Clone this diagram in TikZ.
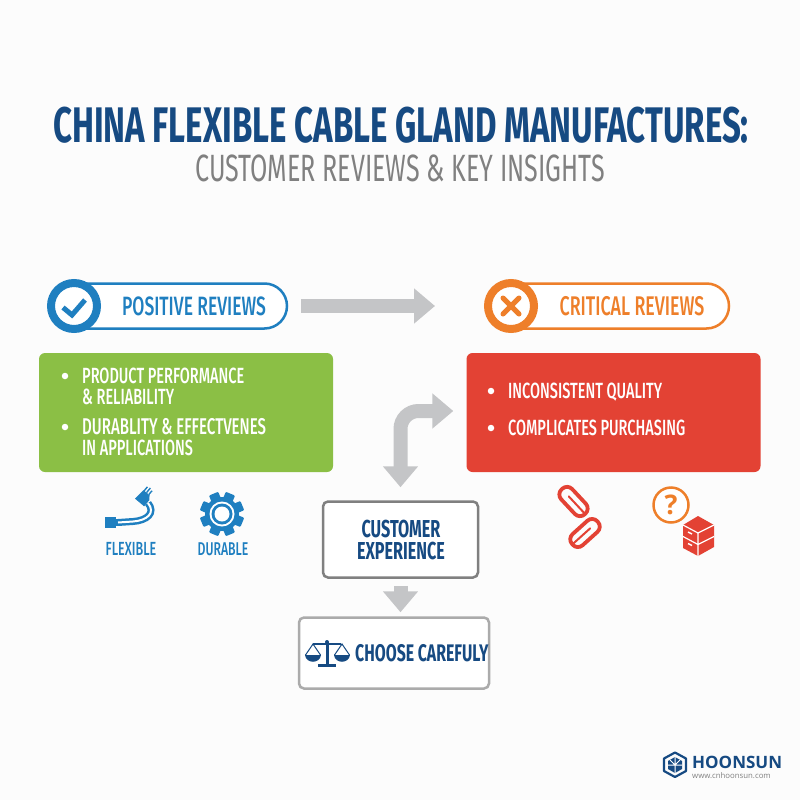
\documentclass[tikz,border=0pt]{standalone}
\usepackage{fontspec}
\usepackage{graphicx}
\usetikzlibrary{arrows.meta,shapes.misc}
\newfontfamily\cnd[FakeStretch=0.66]{Fira Sans Medium}
\newfontfamily\cndb[FakeStretch=0.66]{Fira Sans}
\newfontfamily\logofont{Open Sans}
\definecolor{navy}{HTML}{164A82}
\definecolor{subgray}{HTML}{808080}
\definecolor{posblue}{HTML}{1F7FC0}
\definecolor{critorange}{HTML}{EE7F2A}
\definecolor{boxgreen}{HTML}{8BBF45}
\definecolor{boxred}{HTML}{E34234}
\definecolor{arrowgray}{HTML}{C4C5C7}
\newcommand{\fsz}[1]{\fontsize{#1}{#1}\selectfont}
\tikzset{
  pill/.style={rounded rectangle,draw=#1,line width=2.5pt,fill=white,inner sep=0pt,minimum height=45pt},
  badge/.style={circle,draw=#1,line width=8pt,fill=white,inner sep=0pt,minimum size=46pt},
  panel/.style={rectangle,rounded corners=6pt,fill=#1,inner sep=0pt,minimum width=294pt,minimum height=119pt},
  flowbox/.style={rectangle,rounded corners=5pt,draw=#1,line width=2.5pt,fill=white,inner sep=0pt},
  lab/.style={anchor=west,inner sep=0pt,text height=15pt,text depth=0pt,font=\cnd\fsz{22},text=white},
  headlab/.style={inner sep=0pt,text height=18pt,text depth=0pt,font=\cnd\fsz{#1},text=black},
  iconlab/.style={inner sep=0pt,text height=12pt,text depth=0pt,font=\cnd\fsz{#1},text=posblue},
  flowlab/.style={inner sep=0pt,text height=16pt,text depth=0pt,font=\cndb\bfseries\fsz{#1},text=navy},
  bigarrow/.style={draw=arrowgray,line width=14pt,-{Triangle[length=21pt,width=34pt]}},
  twoarrow/.style={draw=arrowgray,line width=14pt,{Triangle[length=21pt,width=34pt]}-{Triangle[length=21pt,width=34pt]},rounded corners=18pt},
  bul/.style={circle,fill=white,inner sep=0pt,minimum size=6.5pt}
}
\begin{document}
\begin{tikzpicture}[x=1pt,y=-1pt]
\useasboundingbox (0,0) rectangle (800,800);
\fill[white!99!black] (0,0) rectangle (800,800);
% title
\node[inner sep=0pt,font=\cndb\bfseries\fsz{50},text=navy] (title) at (401,125) {CHINA FLEXIBLE CABLE GLAND MANUFACTURES:};
\node[inner sep=0pt,font=\cndb\fsz{38},text=subgray] (subtitle) at (400,168) {CUSTOMER REVIEWS \& KEY INSIGHTS};
% pills
\node[pill=posblue,minimum width=232pt] (pospill) at (171,306) {};
\node[badge=posblue] (posbadge) at (74,306) {};
\node[headlab=26.5,text=posblue] (postext) at (194,306) {POSITIVE REVIEWS};
\draw[posblue,line width=5pt] (63,307.5) -- (72,315) -- (85,300);
\node[pill=critorange,minimum width=232pt] (critpill) at (613,306) {};
\node[badge=critorange] (critbadge) at (511,306) {};
\node[headlab=27,text=critorange] (crittext) at (632,306) {CRITICAL REVIEWS};
\draw[critorange,line width=5pt,line cap=round] (503,298) -- (519,314) (519,298) -- (503,314);
% panels
\node[panel=boxgreen] (green) at (186,412.5) {};
\node[panel=boxred] (red) at (613.5,412.5) {};
\node[bul] (b1) at (65,376) {};
\node[bul] (b2) at (65,427) {};
\node[lab] (g1) at (82,376) {PRODUCT PERFORMANCE};
\node[lab] (g2) at (82,397) {\& RELIABILITY};
\node[lab,font=\cnd\fsz{22.8}] (g3) at (82,427) {DURABLITY \& EFFECTVENES};
\node[lab] (g4) at (82,448) {IN APPLICATIONS};
\node[bul] (b3) at (491,391) {};
\node[bul] (b4) at (491,428) {};
\node[lab] (r1) at (508,391) {INCONSISTENT QUALITY};
\node[lab] (r2) at (508,428) {COMPLICATES PURCHASING};
% flow boxes
\node[flowbox=subgray,minimum width=155pt,minimum height=76pt] (cust) at (400.5,539.5) {};
\node[inner sep=0pt,align=center,font=\cndb\bfseries\fontsize{24.5}{22}\selectfont,text=navy] (c1) at (401,540) {CUSTOMER\\EXPERIENCE};
\node[flowbox=black!33,minimum width=190pt,minimum height=71pt] (choose) at (394,653) {};
\node[flowlab=24,anchor=west] (c3) at (355,653) {CHOOSE CAREFULY};
% arrows
\draw[bigarrow,shorten <=13pt,shorten >=49pt] (pospill.east) -- (critbadge.west);
\coordinate (redin) at (red.west |- 0,411);
\draw[twoarrow,shorten <=13pt,shorten >=13pt] (cust.north) |- (redin);
\draw[bigarrow,shorten <=7pt,shorten >=4pt] (cust.south) -- (cust.south |- choose.north);
% scale icon
\begin{scope}[navy]
\fill (318,663.5) rectangle (336,666.5);
\fill (325.5,642) rectangle (328.5,664);
\fill (327,642) circle (2);
\draw[line width=1.6pt] (313,644) -- (341,644);
\draw[line width=1pt] (305.5,655) -- (313,644) -- (320.5,655) (334.5,655) -- (342,644) -- (349.5,655);
\fill (305,655) .. controls (306,664) and (320,664) .. (321,655) -- cycle;
\fill (334,655) .. controls (335,664) and (349,664) .. (350,655) -- cycle;
\end{scope}
% cable icon
\fill[posblue] (105,517) rectangle (116,528);
\fill[posblue] (116,519) rectangle (120,526);
\draw[posblue,line width=7pt] (118,522.5) -- (133,521.5) .. controls (147,520.5) and (156,513) .. (148,503);
\draw[white,line width=2pt] (118,522.5) -- (133,521.5) .. controls (147,520.5) and (156,513) .. (148,503);
\begin{scope}[shift={(142,498)},rotate=-40]
\fill[posblue] (-4,-7) -- (4,-7) -- (7,-3) -- (7,5) -- (-5,5) -- cycle;
\draw[posblue,line width=1.4pt] (-3,-7) -- (-3,-12) (0,-7) -- (0,-13) (3,-7) -- (3,-12);
\end{scope}
\node[iconlab=19] (flex) at (131,549) {FLEXIBLE};
% gear icon
\fill[posblue] (222,514) circle (17);
\foreach \a in {22.5,67.5,112.5,157.5}
  \fill[posblue,rotate around={\a:(222,514)},rounded corners=1pt] (217,492) rectangle (227,536);
\fill[white] (222,514) circle (12.5);
\fill[posblue] (222,514) circle (10.5);
\fill[white] (222,514) circle (7.5);
\node[iconlab=18.5] (dur) at (223,549) {DURABLE};
% chain icon
\begin{scope}[shift={(573.5,501.5)},rotate=-47]
\draw[boxred,line width=3.8pt,rounded corners=7pt] (-17,-7.5) rectangle (17,7.5);
\draw[boxred,line width=2pt,line cap=round] (-7,0) -- (16,0);
\end{scope}
\begin{scope}[shift={(585,533)},rotate=42]
\draw[boxred,line width=3.8pt,rounded corners=7pt] (-17,-7.5) rectangle (17,7.5);
\draw[boxred,line width=2pt,line cap=round] (-16,0) -- (7,0);
\end{scope}
% question + boxes
\node[circle,draw=critorange,line width=2.5pt,fill=white,inner sep=0pt,minimum size=35pt,font=\logofont\fsz{27}\bfseries,text=critorange] (qmark) at (671,505) {?};
\fill[boxred] (698,516) -- (714,525) -- (714,547) -- (698,556) -- (683,548) -- (683,525) -- cycle;
\draw[white,line width=1.2pt] (683,525) -- (698,533) -- (714,525) (698,533) -- (698,556) (683,536.5) -- (698,544.5) -- (714,536.5);
\draw[white,line width=1.4pt] (688,532) -- (692,534) (688,543.5) -- (692,545.5);
% logo
\draw[navy,line width=2.2pt,line join=round] (675,752.5) -- (686,758.5) -- (686,771) -- (675,777) -- (664,771) -- (664,758.5) -- cycle;
\fill[navy] (675,757) -- (682,761) -- (682,769) -- (675,773) -- (668,769) -- (668,761) -- cycle;
\draw[white,line width=1pt] (675,757) -- (675,773) (668,765) -- (682,765) (670,760) -- (675,765) -- (680,760);
\node[anchor=west,inner sep=0pt,text height=12pt,text depth=0pt,font=\logofont\fsz{17}\bfseries,text=navy] (logo) at (692,762) {HOONSUN};
\node[anchor=west,inner sep=0pt,font=\logofont\fsz{7.8},text=subgray] (url) at (692,776) {www.cnhoonsun.com};
\end{tikzpicture}
\end{document}
